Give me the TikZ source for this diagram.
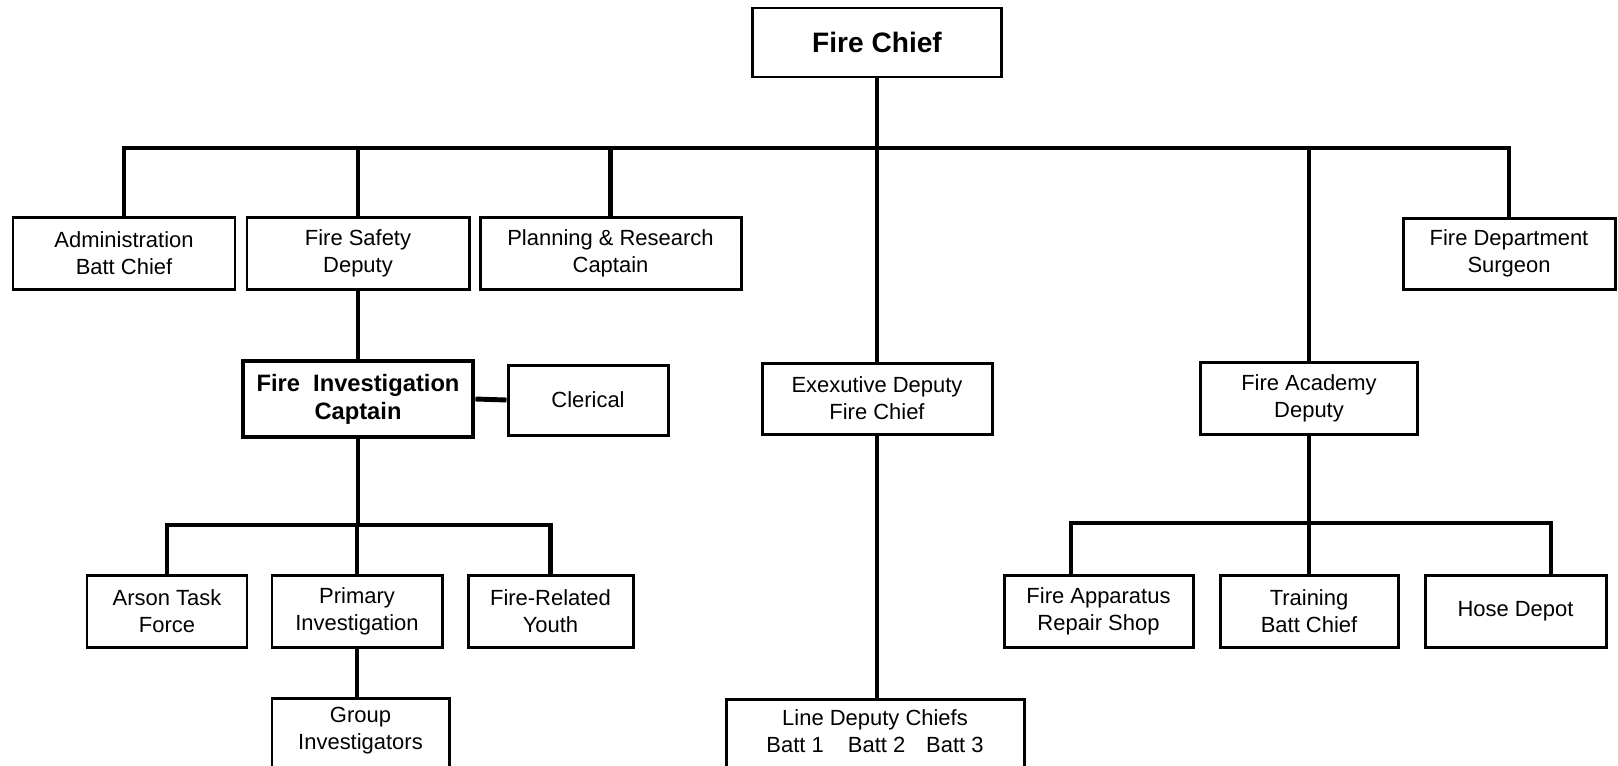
\documentclass[tikz,border=0pt]{standalone}
\usepackage{fontspec}
\setmainfont{Liberation Sans}
\begin{document}
\begin{tikzpicture}[x=0.02cm,y=-0.02cm,
  wh/.style 2 args={minimum width=#1*0.02cm, minimum height=#2*0.02cm},
  txt/.style={font=\fontsize{12.5}{15.4}\selectfont},
  box/.style={draw, line width=1.7pt, inner sep=0pt, align=center, txt},
  bigbox/.style={box, line width=2.8pt, font=\fontsize{13.5}{16}\selectfont\bfseries},
  chiefbox/.style={box, font=\fontsize{16}{19}\selectfont\bfseries},
  lbl/.style={inner sep=0pt, align=center, txt},
  link/.style={line width=2.8pt}
]
\clip (0,0) rectangle (1618,765);

% top level
\node[chiefbox, wh={249}{69}] (chief) at (877,42.5) {Fire Chief};

% second row
\node[box, wh={222}{72}] (admin)   at (124,253)   {Administration\\Batt Chief};
\node[box, wh={222}{72}] (safety)  at (358,253)   {Fire Safety\\Deputy};
\node[box, wh={261}{72}] (plan)    at (610.5,253) {Planning \& Research\\Captain};
\node[box, wh={212}{71}] (surgeon) at (1509,253.5){Fire Department\\Surgeon};

% third row
\node[bigbox, wh={230}{76}] (invest)   at (358,399)   {Fire\ \ Investigation\\Captain};
\node[box, wh={160}{70}]    (clerical) at (588,400)   {Clerical};
\node[box, wh={230}{71}]    (exec)     at (877,398.5) {Exexutive Deputy\\Fire Chief};
\node[box, wh={217}{72}]    (academy)  at (1309,398)  {Fire Academy\\Deputy};

% fourth row
\node[box, wh={160}{72}] (arson)    at (167,611)    {Arson Task\\Force};
\node[box, wh={170}{72}] (primary)  at (357,611)    {Primary\\Investigation};
\node[box, wh={165}{72}] (youth)    at (550.5,611)  {Fire-Related\\Youth};
\node[box, wh={189}{72}] (repair)   at (1098.5,611) {Fire Apparatus\\Repair Shop};
\node[box, wh={178}{72}] (training) at (1309,611)   {Training\\Batt Chief};
\node[box, wh={181}{72}] (hose)     at (1515.5,611) {Hose Depot};

% bottom row (boxes run past the lower edge)
\node[box, wh={177}{110}, anchor=north] (group) at (360.5,697) {};
\node[lbl] (grouptext) at (360.5,731) {Group\\Investigators};
\node[box, wh={298}{110}, anchor=north] (ldc) at (875,698) {};
\node[lbl] (ldctext) at (875,731) {Line Deputy Chiefs\\Batt 1\hspace{1.1em}Batt 2\hspace{0.95em}Batt 3};

% bus lines
\coordinate (bus) at (877,148);
\coordinate (fibus) at (357,525);
\coordinate (acbus) at (1309,523);
\coordinate (repdrop) at (1071,523);
\coordinate (hosedrop) at (1551,523);

\draw[link] (chief.south) -- (chief.south |- bus);
\draw[link] (admin.north) -- (admin.north |- bus) -- (surgeon.north |- bus) -- (surgeon.north);
\draw[link] (safety.north |- bus) -- (safety.north);
\draw[link] (plan.north |- bus) -- (plan.north);
\draw[link] (exec.north |- bus) -- (exec.north);
\draw[link] (academy.north |- bus) -- (academy.north);

% fire safety branch
\draw[link] (safety.south) -- (safety.south |- invest.north);
\draw[link] (invest.east) -- (clerical.west);
\draw[link] (invest.south) -- (invest.south |- fibus);
\draw[link] (arson.north) -- (arson.north |- fibus) -- (youth.north |- fibus) -- (youth.north);
\draw[link] (primary.north |- fibus) -- (primary.north);
\draw[link] (primary.south) -- (primary.south |- group.north);

% executive branch
\draw[link] (exec.south) -- (exec.south |- ldc.north);

% academy branch
\draw[link] (academy.south) -- (academy.south |- acbus);
\draw[link] (repdrop |- repair.north) -- (repdrop) -- (hosedrop) -- (hosedrop |- hose.north);
\draw[link] (training.north |- acbus) -- (training.north);
\end{tikzpicture}
\end{document}
